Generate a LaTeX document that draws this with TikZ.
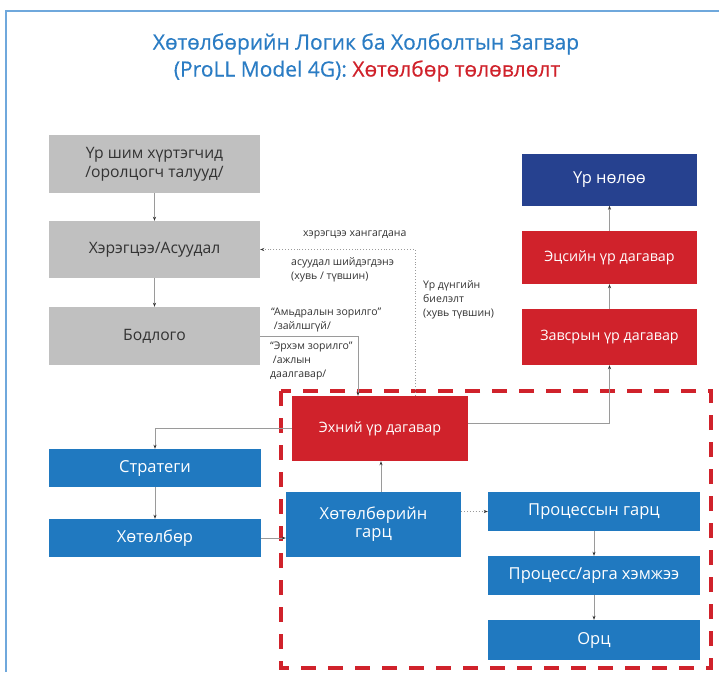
\documentclass[tikz,border=0pt]{standalone}
\usepackage{fontspec}
\setmainfont{Open Sans}
\newfontfamily\titlefont[FakeBold=0.4]{Open Sans}
\usetikzlibrary{arrows.meta,calc}
\definecolor{tblue}{HTML}{2A7CC4}
\definecolor{tred}{HTML}{D0222B}
\definecolor{bblue}{HTML}{2079C0}
\definecolor{dblue}{HTML}{26418F}
\definecolor{gbox}{HTML}{C0C0C0}
\definecolor{frame}{HTML}{6FA8DC}
\definecolor{lgray}{HTML}{9A9A9A}
\definecolor{txt}{HTML}{333333}
\tikzset{
  box/.style={draw=none, inner sep=2pt, align=center},
  graybox/.style={box, fill=gbox, text=txt, font=\fontsize{15.7}{19}\selectfont},
  bluebox/.style={box, fill=bblue, text=white, font=\fontsize{16.5}{20}\selectfont},
  redbox/.style={box, fill=tred, text=white, font=\fontsize{14.3}{17}\selectfont},
  navybox/.style={box, fill=dblue, text=white, font=\fontsize{16.5}{20}\selectfont},
  conn/.style={draw=lgray, line width=0.9pt, -{Stealth[length=4pt,width=3pt,color=txt]}},
  dconn/.style={draw=lgray, line width=0.9pt, dotted, -{Stealth[length=4pt,width=3pt,color=txt]}},
  lbl/.style={anchor=west, inner sep=0pt, align=left, text=txt, font=\fontsize{10.5}{14}\selectfont},
}
\begin{document}
\begin{tikzpicture}[x=1pt,y=-1pt]
\useasboundingbox (0,0) rectangle (719,672);
\fill[white] (0,0) rectangle (719,672);
\draw[frame, line width=1.5pt] (6,672) -- (6,11) -- (719,11);

\node[text=tblue, font=\titlefont\fontsize{21}{25}\selectfont] (t1) at (366,44) {Хөтөлбөрийн Логик ба Холболтын Загвар};
\node[font=\titlefont\fontsize{21}{25}\selectfont] (t2) at (367,71) {\textcolor{tblue}{(ProLL Model 4G):} \textcolor{tred}{Хөтөлбөр төлөвлөлт}};

% left gray column
\node[graybox, minimum width=211pt, minimum height=58pt] (b1) at (154.5,164) {Үр шим хүртэгчид\\/оролцогч талууд/};
\node[graybox, minimum width=211pt, minimum height=57pt] (b2) at (154.5,249.5) {Хэрэгцээ/Асуудал};
\node[graybox, minimum width=211pt, minimum height=58pt] (b3) at (154.5,336) {Бодлого};

% right column
\node[navybox, minimum width=175pt, minimum height=52pt] (impact) at (609.5,179.5) {Үр нөлөө};
\node[redbox, minimum width=175pt, minimum height=53pt] (final) at (609.5,257.5) {Эцсийн үр дагавар};
\node[redbox, minimum width=175pt, minimum height=56pt] (inter) at (609.5,337) {Завсрын үр дагавар};

% dashed region
\draw[tred, line width=3.5pt, dash pattern=on 15pt off 12pt] (281,391) rectangle (711,668);

\node[redbox, minimum width=176pt, minimum height=65pt] (early) at (380,428.5) {Эхний үр дагавар};
\node[bluebox, minimum width=212pt, minimum height=38pt] (strat) at (155,468) {Стратеги};
\node[bluebox, minimum width=212pt, minimum height=38pt] (prog) at (155,538) {Хөтөлбөр};
\node[bluebox, minimum width=175pt, minimum height=65pt, font=\fontsize{16.5}{18}\selectfont] (pout) at (373.5,524.5) {Хөтөлбөрийн\\гарц};
\node[bluebox, minimum width=212pt, minimum height=39pt] (procout) at (594,511.5) {Процессын гарц};
\node[bluebox, minimum width=212pt, minimum height=39pt] (proc) at (594,575.5) {Процесс/арга хэмжээ};
\node[bluebox, minimum width=212pt, minimum height=40pt] (input) at (594,640) {Орц};

% helper coordinates
\coordinate (xa) at (358,0);
\coordinate (xb) at (415,0);
\coordinate (xc) at (381,0);
\coordinate (ya) at (0,423);

% connectors
\draw[conn] (b1) -- (b2);
\draw[conn] (b2) -- (b3);
\draw[conn] (b3.east) -| (xa |- early.north);
\draw[dconn] (xb |- early.north) |- (b2.east);
\draw[conn] (early.west) -| (strat.north);
\draw[conn] (strat) -- (prog);
\draw[conn] (prog.east) -- (prog.east -| pout.west);
\draw[conn] (xc |- pout.north) -- (xc |- early.south);
\draw[dconn] (procout.west -| pout.east) -- (procout.west);
\draw[conn] (procout) -- (proc);
\draw[conn] (proc) -- (input);
\draw[conn] (early.east |- ya) -| (inter.south);
\draw[conn] (inter) -- (final);
\draw[conn] (final) -- (impact);

% labels
\node[lbl] (l1) at (303,235) {хэрэгцээ хангагдана};
\node[lbl] (l2) at (291,270) {асуудал шийдэгдэнэ\\(хувь / түвшин)};
\node[lbl] (l3) at (423,300) {Үр дүнгийн\\биелэлт\\(хувь түвшин)};
\node[lbl] (l4) at (271,320) {“Амьдралын зорилго”\\\ /зайлшгүй/};
\node[lbl] (l5) at (270,361) {“Эрхэм зорилго”\\\ /ажлын\\даалгавар/};
\end{tikzpicture}
\end{document}
